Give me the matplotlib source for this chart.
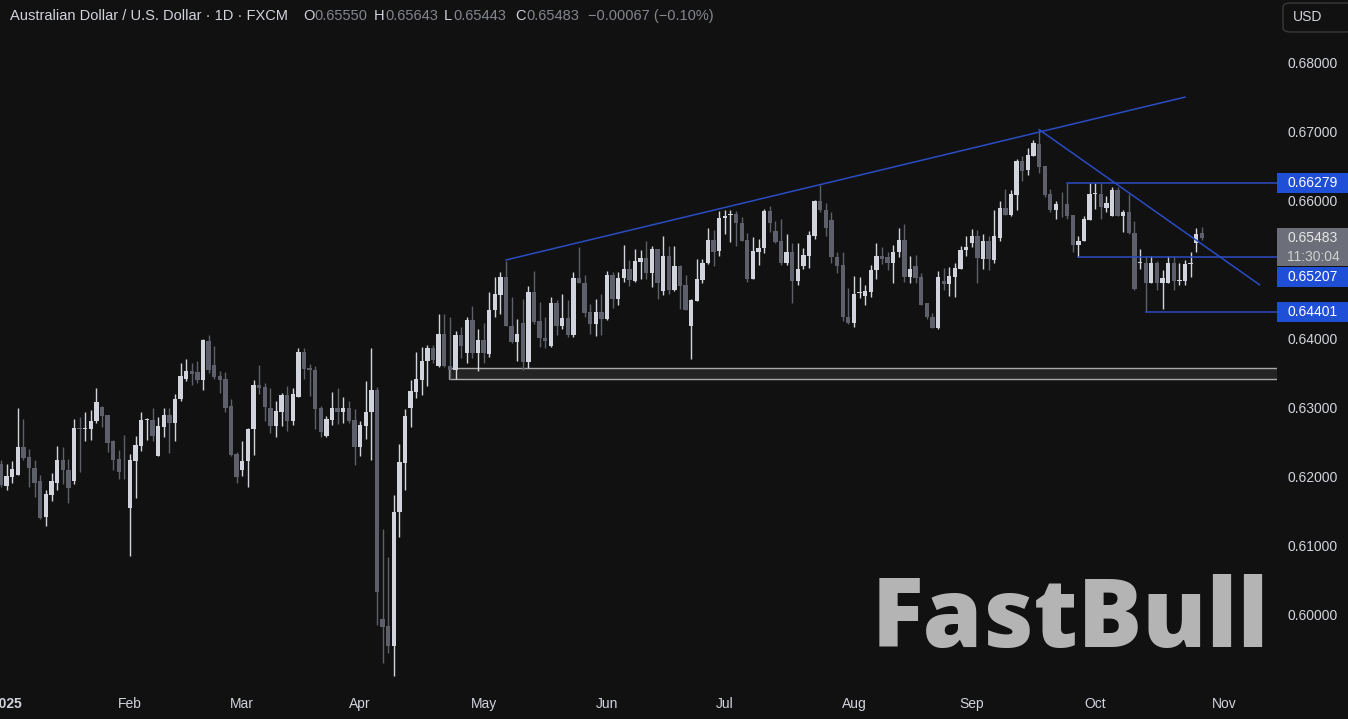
import pandas as pd
import matplotlib
matplotlib.use("Agg")
import matplotlib.pyplot as plt
from matplotlib.patches import Rectangle, FancyBboxPatch
from matplotlib.transforms import blended_transform_factory

###############################################################################################################

# 1. Dados (AUD/USD diario, FXCM)
datas = pd.bdate_range("2025-01-01", "2025-10-28")

abertura = [0.6221, 0.6188, 0.6202, 0.6205, 0.6245, 0.6230, 0.6215, 0.6195, 0.6143, 0.6176,
            0.6193, 0.6226, 0.6212, 0.6195, 0.6273, 0.6271, 0.6271, 0.6282, 0.6303, 0.6291,
            0.6253, 0.6227, 0.6209, 0.6157, 0.6225, 0.6246, 0.6284, 0.6284, 0.6232, 0.6274,
            0.6292, 0.6279, 0.6314, 0.6344, 0.6355, 0.6353, 0.6342, 0.6399, 0.6364, 0.6348,
            0.6344, 0.6304, 0.6235, 0.6211, 0.6224, 0.6271, 0.6335, 0.6332, 0.6302, 0.6275,
            0.6296, 0.6320, 0.6283, 0.6318, 0.6383, 0.6360, 0.6357, 0.6302, 0.6261, 0.6284,
            0.6302, 0.6296, 0.6302, 0.6284, 0.6245, 0.6275, 0.6295, 0.6328, 0.5996, 0.5985,
            0.5956, 0.6150, 0.6222, 0.6302, 0.6325, 0.6342, 0.6369, 0.6389, 0.6362, 0.6408,
            0.6363, 0.6357, 0.6407, 0.6381, 0.6429, 0.6381, 0.6400, 0.6380, 0.6443, 0.6465,
            0.6492, 0.6421, 0.6397, 0.6425, 0.6368, 0.6469, 0.6427, 0.6403, 0.6391, 0.6454,
            0.6421, 0.6432, 0.6407, 0.6490, 0.6483, 0.6440, 0.6423, 0.6440, 0.6431, 0.6494,
            0.6460, 0.6490, 0.6503, 0.6486, 0.6513, 0.6519, 0.6497, 0.6532, 0.6471, 0.6522,
            0.6472, 0.6507, 0.6479, 0.6420, 0.6457, 0.6487, 0.6511, 0.6545, 0.6529, 0.6577,
            0.6581, 0.6582, 0.6570, 0.6545, 0.6488, 0.6528, 0.6534, 0.6587, 0.6558, 0.6543,
            0.6512, 0.6528, 0.6486, 0.6507, 0.6522, 0.6551, 0.6601, 0.6589, 0.6574, 0.6521,
            0.6509, 0.6434, 0.6424, 0.6468, 0.6464, 0.6470, 0.6501, 0.6522, 0.6521, 0.6511,
            0.6527, 0.6545, 0.6491, 0.6507, 0.6491, 0.6453, 0.6434, 0.6417, 0.6485, 0.6481,
            0.6492, 0.6503, 0.6530, 0.6540, 0.6551, 0.6517, 0.6543, 0.6516, 0.6548, 0.6591,
            0.6581, 0.6610, 0.6659, 0.6646, 0.6667, 0.6684, 0.6652, 0.6612, 0.6588, 0.6596,
            0.6597, 0.6581, 0.6538, 0.6543, 0.6574, 0.6612, 0.6612, 0.6592, 0.6580, 0.6617,
            0.6579, 0.6585, 0.6555, 0.6512, 0.6512, 0.6483, 0.6511, 0.6482, 0.6482, 0.6511,
            0.6486, 0.6485, 0.6510, 0.6540, 0.65550]
maxima = [0.6226, 0.6220, 0.6225, 0.6301, 0.6286, 0.6242, 0.6226, 0.6205, 0.6183, 0.6207,
          0.6246, 0.6245, 0.6228, 0.6285, 0.6288, 0.6295, 0.6299, 0.6330, 0.6305, 0.6292,
          0.6255, 0.6240, 0.6262, 0.6235, 0.6261, 0.6296, 0.6287, 0.6302, 0.6289, 0.6302,
          0.6301, 0.6322, 0.6367, 0.6372, 0.6367, 0.6369, 0.6402, 0.6407, 0.6391, 0.6355,
          0.6354, 0.6315, 0.6238, 0.6254, 0.6273, 0.6342, 0.6364, 0.6337, 0.6330, 0.6312,
          0.6323, 0.6333, 0.6330, 0.6389, 0.6389, 0.6365, 0.6363, 0.6304, 0.6290, 0.6325,
          0.6330, 0.6317, 0.6312, 0.6300, 0.6283, 0.6341, 0.6388, 0.6332, 0.6126, 0.6085,
          0.6175, 0.6249, 0.6300, 0.6342, 0.6382, 0.6390, 0.6393, 0.6393, 0.6437, 0.6438,
          0.6434, 0.6413, 0.6419, 0.6433, 0.6449, 0.6416, 0.6425, 0.6469, 0.6491, 0.6499,
          0.6515, 0.6462, 0.6431, 0.6459, 0.6478, 0.6500, 0.6455, 0.6434, 0.6463, 0.6458,
          0.6467, 0.6458, 0.6498, 0.6535, 0.6494, 0.6452, 0.6459, 0.6466, 0.6500, 0.6499,
          0.6499, 0.6537, 0.6516, 0.6532, 0.6531, 0.6544, 0.6536, 0.6532, 0.6550, 0.6536,
          0.6536, 0.6508, 0.6494, 0.6460, 0.6518, 0.6518, 0.6562, 0.6559, 0.6587, 0.6589,
          0.6588, 0.6587, 0.6578, 0.6555, 0.6549, 0.6547, 0.6590, 0.6594, 0.6573, 0.6575,
          0.6553, 0.6540, 0.6540, 0.6534, 0.6558, 0.6603, 0.6625, 0.6599, 0.6586, 0.6527,
          0.6527, 0.6475, 0.6493, 0.6491, 0.6479, 0.6509, 0.6540, 0.6535, 0.6527, 0.6537,
          0.6563, 0.6568, 0.6522, 0.6523, 0.6497, 0.6454, 0.6439, 0.6500, 0.6504, 0.6506,
          0.6512, 0.6536, 0.6550, 0.6561, 0.6560, 0.6554, 0.6550, 0.6589, 0.6601, 0.6619,
          0.6618, 0.6663, 0.6666, 0.6678, 0.6690, 0.6705, 0.6652, 0.6619, 0.6601, 0.6614,
          0.6627, 0.6581, 0.6551, 0.6580, 0.6627, 0.6628, 0.6628, 0.6608, 0.6622, 0.6622,
          0.6589, 0.6612, 0.6572, 0.6532, 0.6522, 0.6522, 0.6514, 0.6502, 0.6522, 0.6522,
          0.6512, 0.6516, 0.6527, 0.6562, 0.65643]
minima = [0.6187, 0.6183, 0.6193, 0.6204, 0.6226, 0.6187, 0.6172, 0.6140, 0.6131, 0.6166,
          0.6183, 0.6191, 0.6164, 0.6191, 0.6208, 0.6253, 0.6255, 0.6280, 0.6274, 0.6237,
          0.6211, 0.6199, 0.6199, 0.6087, 0.6171, 0.6239, 0.6255, 0.6253, 0.6232, 0.6260,
          0.6236, 0.6254, 0.6311, 0.6341, 0.6335, 0.6337, 0.6328, 0.6352, 0.6344, 0.6323,
          0.6296, 0.6232, 0.6193, 0.6203, 0.6187, 0.6233, 0.6322, 0.6282, 0.6265, 0.6259,
          0.6275, 0.6268, 0.6277, 0.6317, 0.6344, 0.6319, 0.6271, 0.6259, 0.6260, 0.6277,
          0.6278, 0.6279, 0.6280, 0.6219, 0.6232, 0.6256, 0.6226, 0.5987, 0.5932, 0.5947,
          0.5913, 0.6115, 0.6182, 0.6274, 0.6316, 0.6321, 0.6334, 0.6366, 0.6361, 0.6361,
          0.6343, 0.6343, 0.6374, 0.6367, 0.6374, 0.6355, 0.6366, 0.6376, 0.6433, 0.6438,
          0.6420, 0.6395, 0.6370, 0.6357, 0.6359, 0.6423, 0.6390, 0.6388, 0.6390, 0.6407,
          0.6416, 0.6405, 0.6405, 0.6482, 0.6433, 0.6408, 0.6406, 0.6407, 0.6429, 0.6447,
          0.6450, 0.6484, 0.6478, 0.6484, 0.6488, 0.6488, 0.6477, 0.6459, 0.6465, 0.6466,
          0.6471, 0.6445, 0.6444, 0.6373, 0.6456, 0.6483, 0.6510, 0.6507, 0.6522, 0.6553,
          0.6542, 0.6536, 0.6544, 0.6484, 0.6488, 0.6509, 0.6526, 0.6556, 0.6541, 0.6509,
          0.6508, 0.6454, 0.6479, 0.6503, 0.6504, 0.6546, 0.6586, 0.6551, 0.6512, 0.6497,
          0.6427, 0.6423, 0.6419, 0.6461, 0.6450, 0.6463, 0.6489, 0.6510, 0.6501, 0.6482,
          0.6520, 0.6484, 0.6482, 0.6482, 0.6450, 0.6430, 0.6417, 0.6416, 0.6472, 0.6464,
          0.6463, 0.6503, 0.6522, 0.6535, 0.6483, 0.6503, 0.6502, 0.6511, 0.6544, 0.6581,
          0.6580, 0.6589, 0.6631, 0.6639, 0.6667, 0.6642, 0.6607, 0.6586, 0.6575, 0.6578,
          0.6575, 0.6527, 0.6521, 0.6543, 0.6574, 0.6590, 0.6576, 0.6586, 0.6580, 0.6579,
          0.6557, 0.6554, 0.6472, 0.6503, 0.6440, 0.6482, 0.6473, 0.6445, 0.6482, 0.6473,
          0.6480, 0.6479, 0.6492, 0.6527, 0.65443]
fecho = [0.6190, 0.6203, 0.6213, 0.6245, 0.6229, 0.6214, 0.6193, 0.6142, 0.6177, 0.6195,
         0.6226, 0.6211, 0.6186, 0.6273, 0.6271, 0.6272, 0.6283, 0.6310, 0.6290, 0.6251,
         0.6226, 0.6208, 0.6208, 0.6226, 0.6248, 0.6284, 0.6285, 0.6261, 0.6275, 0.6292,
         0.6279, 0.6315, 0.6348, 0.6355, 0.6350, 0.6342, 0.6400, 0.6356, 0.6346, 0.6342,
         0.6302, 0.6233, 0.6202, 0.6225, 0.6271, 0.6335, 0.6331, 0.6303, 0.6275, 0.6297,
         0.6320, 0.6283, 0.6322, 0.6383, 0.6358, 0.6356, 0.6300, 0.6267, 0.6286, 0.6301,
         0.6296, 0.6302, 0.6282, 0.6245, 0.6277, 0.6295, 0.6328, 0.6035, 0.5984, 0.5956,
         0.6150, 0.6223, 0.6290, 0.6326, 0.6343, 0.6369, 0.6389, 0.6371, 0.6408, 0.6362,
         0.6357, 0.6407, 0.6391, 0.6429, 0.6381, 0.6400, 0.6381, 0.6443, 0.6466, 0.6492,
         0.6420, 0.6397, 0.6408, 0.6368, 0.6469, 0.6426, 0.6403, 0.6399, 0.6454, 0.6421,
         0.6432, 0.6407, 0.6490, 0.6483, 0.6439, 0.6423, 0.6440, 0.6431, 0.6494, 0.6460,
         0.6490, 0.6503, 0.6487, 0.6514, 0.6519, 0.6497, 0.6532, 0.6483, 0.6522, 0.6472,
         0.6507, 0.6478, 0.6444, 0.6458, 0.6488, 0.6512, 0.6545, 0.6528, 0.6577, 0.6580,
         0.6582, 0.6569, 0.6544, 0.6488, 0.6529, 0.6534, 0.6587, 0.6570, 0.6542, 0.6512,
         0.6528, 0.6486, 0.6503, 0.6523, 0.6552, 0.6601, 0.6588, 0.6563, 0.6520, 0.6507,
         0.6433, 0.6424, 0.6467, 0.6468, 0.6471, 0.6502, 0.6522, 0.6517, 0.6511, 0.6527,
         0.6545, 0.6491, 0.6503, 0.6490, 0.6451, 0.6433, 0.6417, 0.6491, 0.6481, 0.6493,
         0.6504, 0.6531, 0.6535, 0.6551, 0.6519, 0.6543, 0.6517, 0.6550, 0.6591, 0.6581,
         0.6612, 0.6659, 0.6645, 0.6668, 0.6685, 0.6651, 0.6610, 0.6588, 0.6597, 0.6595,
         0.6580, 0.6538, 0.6544, 0.6576, 0.6612, 0.6613, 0.6593, 0.6599, 0.6617, 0.6579,
         0.6585, 0.6555, 0.6474, 0.6513, 0.6483, 0.6511, 0.6482, 0.6490, 0.6511, 0.6486,
         0.6487, 0.6510, 0.6510, 0.6553, 0.65483]

# desenhos (linhas de tendencia, niveis, zona)
tend_sobe_x = [90, 211]
tend_sobe_y = [0.6516, 0.6752]
tend_desce_x = [185, 224.3]
tend_desce_y = [0.6705, 0.6480]
niveis = [0.66279, 0.65207, 0.64401]
niveis_inicio = [190, 192, 204]
zona = [0.6343, 0.6359]
zona_inicio = 79.8

precos_eixo = [0.68, 0.67, 0.66, 0.64, 0.63, 0.62, 0.61, 0.60]

###############################################################################################################

# 2. Grafico
W, H = 1348, 719
BG = "#111111"
UP, DOWN = "#d1d4dc", "#5d606b"
AZUL_LINHA, AZUL_CAIXA = "#2a4cc4", "#1f4fd6"
FONTE = "Liberation Sans"

fig = plt.figure(figsize=(W / 100, H / 100), dpi=100, facecolor=BG)
ax = fig.add_axes([0, 29 / H, 1277 / W, 690 / H])
ax.set_facecolor(BG)
for s in ax.spines.values():
    s.set_visible(False)
ax.set_xticks([])
ax.set_yticks([])

n = len(datas)
ax.set_xlim(-0.18, 227.4)
ax.set_ylim(0.589275, 0.689275)

# zona cinza
ax.add_patch(Rectangle((zona_inicio, zona[0]), 228 - zona_inicio, zona[1] - zona[0],
                       facecolor="#242424", edgecolor="#a8a8a8", linewidth=1, zorder=1))

# velas
for i in range(n):
    o, h, l, c = abertura[i], maxima[i], minima[i], fecho[i]
    cor = UP if c >= o else DOWN
    ax.vlines(i, l, h, color=cor, linewidth=1, zorder=3)
    corpo = max(abs(c - o), 0.00012)
    ax.add_patch(Rectangle((i - 0.39, min(o, c)), 0.78, corpo, facecolor=cor,
                           edgecolor="none", zorder=4))

# linhas azuis
ax.plot(tend_sobe_x, tend_sobe_y, color=AZUL_LINHA, linewidth=1.1, zorder=5)
ax.plot(tend_desce_x, tend_desce_y, color=AZUL_LINHA, linewidth=1.1, zorder=5)
for p, x0 in zip(niveis, niveis_inicio):
    ax.plot([x0, 228], [p, p], color=AZUL_LINHA, linewidth=1.1, zorder=5)

# eixo do tempo
meses = pd.bdate_range("2025-01-01", "2025-11-30")
primeiros = meses.to_series().groupby([meses.year, meses.month]).first()
xt = ax.get_xaxis_transform()
for d in primeiros:
    i = meses.get_loc(d)
    if d.month == 1:
        # o rotulo do ano fica cortado na margem, como no original
        ax.text(i + 1.0, -14 / 690, "2025", transform=xt, ha="center", va="center",
                color=UP, fontsize=10, family=FONTE, fontweight="bold", clip_on=False)
        continue
    ax.text(i, -14 / 690, d.strftime("%b"), transform=xt, ha="center", va="center",
            color=UP, fontsize=10, family=FONTE, clip_on=False)

# escala de precos
tr = blended_transform_factory(fig.transFigure, ax.transData)
xl = 1313 / W
for p in precos_eixo:
    fig.text(xl, p, f"{p:.5f}", transform=tr, ha="center", va="center", color=UP,
             fontsize=10, family=FONTE)

px = 0.0001 / 0.69  # altura de 1 pixel em preco
# caixa cinza do preco atual
fig.add_artist(Rectangle((1277 / W, 0.68 - (266 - 64) * px), 71 / W, 38 * px,
                         transform=tr, facecolor="#6c6f79", edgecolor="none"))
fig.text(xl, fecho[-1], f"{fecho[-1]:.5f}", transform=tr, ha="center", va="center",
         color="#e6e6e6", fontsize=10, family=FONTE)
fig.text(xl, fecho[-1] - 19 * px, "11:30:04", transform=tr, ha="center", va="center",
         color="#d0d0d0", fontsize=10, family=FONTE)

# caixas azuis dos niveis (a do meio desce para nao tapar a cinzenta)
desvio = [0, -20 * px, 0]
for p, dy in zip(niveis, desvio):
    fig.add_artist(Rectangle((1277 / W, p + dy - 10 * px), 71 / W, 20 * px, transform=tr,
                             facecolor=AZUL_CAIXA, edgecolor="none"))
    fig.text(xl, p + dy, f"{p:.5f}", transform=tr, ha="center", va="center",
             color="white", fontsize=10, family=FONTE)

# caixa USD
fig.add_artist(FancyBboxPatch((1283 / W, 1 - 32 / H), 70 / W, 29 / H,
                              boxstyle="round,pad=0,rounding_size=0.006",
                              transform=fig.transFigure, facecolor=BG,
                              edgecolor="#3a3a3a", linewidth=1))
fig.text(1293 / W, 1 - 17 / H, "USD", ha="left", va="center", color=UP, fontsize=10,
         family=FONTE)

# cabecalho
topo = 1 - 16 / H
fig.text(10 / W, topo, "Australian Dollar / U.S. Dollar · 1D · FXCM", ha="left",
         va="center", color=UP, fontsize=10.5, family=FONTE)
partes = [(303, "O", UP), (314, f"{abertura[-1]:.5f}", "#83868f"),
          (374, "H", UP), (385, f"{maxima[-1]:.5f}", "#83868f"),
          (444, "L", UP), (453, f"{minima[-1]:.5f}", "#83868f"),
          (515, "C", UP), (526, f"{fecho[-1]:.5f}", "#83868f"),
          (588, "\u22120.00067 (\u22120.10%)", "#83868f")]
for x, t, c in partes:
    fig.text(x / W, topo, t, ha="left", va="center", color=c, fontsize=10.5, family=FONTE)

# marca d'agua
fig.text(872 / W, 1 - 647 / H, "FastBull", ha="left", va="baseline", color="#b4b4b4",
         fontsize=69, family="Open Sans", fontweight=800)

plt.savefig("out.png", dpi=100, facecolor=BG)
plt.close()
